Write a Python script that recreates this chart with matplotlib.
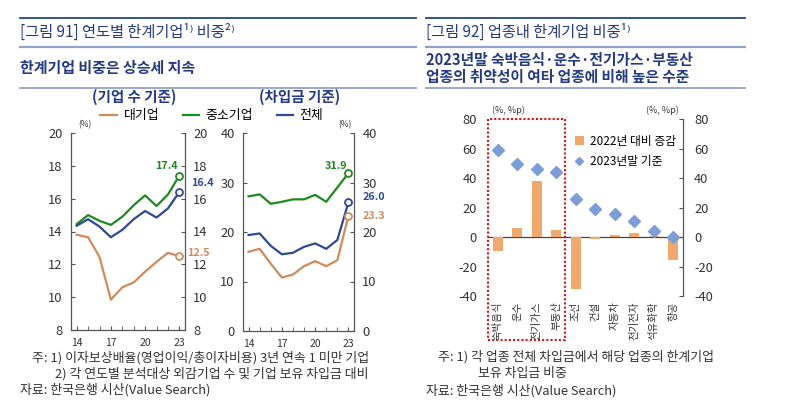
#!/usr/bin/env python3
# -*- coding: utf-8 -*-
"""
한계기업 비중 차트 재현 (그림 91, 그림 92)
"""

import numpy as np
import matplotlib
matplotlib.use('Agg')
import matplotlib.pyplot as plt
from matplotlib.lines import Line2D
from matplotlib.patches import Rectangle

plt.rcParams['font.family'] = ['Noto Sans CJK KR', 'DejaVu Sans']
plt.rcParams['axes.unicode_minus'] = False

# ---- 데이터 ----
years = [14, 15, 16, 17, 18, 19, 20, 21, 22, 23]

# 기업 수 기준 (%)
cnt_large = [13.8, 13.65, 12.45, 9.85, 10.6, 10.9, 11.55, 12.15, 12.7, 12.5]
cnt_sme = [14.45, 15.0, 14.65, 14.4, 14.9, 15.6, 16.2, 15.55, 16.25, 17.4]
cnt_all = [14.35, 14.75, 14.3, 13.65, 14.1, 14.75, 15.25, 14.85, 15.4, 16.4]

# 차입금 기준 (%)
debt_large = [16.0, 16.6, 13.6, 10.8, 11.4, 13.1, 14.1, 13.1, 14.3, 23.3]
debt_sme = [27.2, 27.6, 25.7, 26.1, 26.6, 26.6, 27.5, 26.1, 29.0, 31.9]
debt_all = [19.4, 19.7, 17.2, 15.5, 15.8, 17.0, 17.7, 16.6, 18.4, 26.0]

# 업종별
industries = ['숙박음식', '운수', '전기가스', '부동산', '조선', '건설', '자동차', '전기전자', '석유화학', '항공']
chg_vs_2022 = [-9.3, 5.9, 38.3, 4.8, -35.5, -1.1, 1.1, 2.9, 0.7, -15.6]
level_2023 = [59.1, 49.4, 46.2, 43.9, 26.0, 19.2, 15.6, 11.1, 4.1, 0.0]

# ---- 색상 ----
C_LARGE = '#D4895A'
C_SME = '#1E8A1E'
C_ALL = '#2D4A98'
C_BAR = '#F0A86C'
C_DIA = '#7D9DD8'
C_TITLE = '#233A86'
C_LINE_DARK = '#2A4485'
C_LINE_LIGHT = '#8FA3CF'
C_TXT = '#333333'

W, H = 800, 413
fig = plt.figure(figsize=(W / 100, H / 100), dpi=100)


def fx(x):
    return x / W


def fy(y):
    return 1 - y / H


def axes_px(left, top, right, bottom):
    return fig.add_axes([fx(left), fy(bottom), (right - left) / W, (bottom - top) / H])


# ---- 제목 영역 ----
def hline(x0, x1, y, color, lw):
    fig.add_artist(Line2D([fx(x0), fx(x1)], [fy(y), fy(y)], color=color, lw=lw,
                          transform=fig.transFigure))


hline(20, 416, 18, C_LINE_DARK, 1.3)
hline(20, 416, 47, C_LINE_LIGHT, 1.6)
hline(20, 416, 88, C_LINE_LIGHT, 1.3)
hline(426, 745, 18, C_LINE_DARK, 1.3)
hline(426, 745, 47, C_LINE_LIGHT, 1.6)
hline(426, 745, 88, C_LINE_LIGHT, 1.3)

fig.text(fx(20), fy(32), '[그림 91] 연도별 한계기업¹⁾ 비중²⁾', fontsize=11, color=C_TITLE,
         va='center', ha='left')
fig.text(fx(20), fy(68), '한계기업 비중은 상승세 지속', fontsize=10.8, color=C_TITLE,
         va='center', ha='left', fontweight='bold')
fig.text(fx(426), fy(32), '[그림 92] 업종내 한계기업 비중¹⁾', fontsize=11, color=C_TITLE,
         va='center', ha='left')
fig.text(fx(426), fy(60), '2023년말 숙박음식·운수·전기가스·부동산', fontsize=10.6, color=C_TITLE,
         va='center', ha='left', fontweight='bold')
fig.text(fx(426), fy(77), '업종의 취약성이 여타 업종에 비해 높은 수준', fontsize=10.6, color=C_TITLE,
         va='center', ha='left', fontweight='bold')

fig.text(fx(134), fy(97), '(기업 수 기준)', fontsize=10.5, color=C_TITLE, ha='center',
         va='center', fontweight='bold')
fig.text(fx(300), fy(97), '(차입금 기준)', fontsize=10.5, color=C_TITLE, ha='center',
         va='center', fontweight='bold')

# ---- 선 그래프 ----
def line_panel(ax, large, sme, total, ylim, yticks, labels):
    for vals, col in ((large, C_LARGE), (sme, C_SME), (total, C_ALL)):
        ax.plot(years, vals, color=col, lw=1.6, zorder=3)
        ax.plot(years[-1], vals[-1], 'o', ms=5, mfc='white', mec=col, mew=1.3, zorder=4)
    for vals, col, (dx, dy) in zip((large, sme, total), (C_LARGE, C_SME, C_ALL), labels):
        ax.annotate(f'{vals[-1]:.1f}', xy=(years[-1], vals[-1]), xytext=(dx, dy),
                    textcoords='offset points', ha='center', va='center',
                    fontsize=7.8, color=col, fontweight='bold', annotation_clip=False)
    ax.set_xlim(13.5, 23.5)
    ax.set_ylim(*ylim)
    ax.set_yticks(yticks)
    ax.set_xticks([14, 17, 20, 23])
    ax.set_xticks(years, minor=True)
    ax.set_xticklabels(['14', '17', '20', '23'])
    ax.spines['top'].set_visible(False)
    for s in ('left', 'right', 'bottom'):
        ax.spines[s].set_color('#555555')
        ax.spines[s].set_linewidth(0.9)
    ax.tick_params(axis='y', direction='in', left=True, right=True, labelleft=True,
                   labelright=True, length=3, labelsize=9.3, colors='#555555',
                   labelcolor=C_TXT, pad=6)
    ax.tick_params(axis='x', which='both', direction='in', length=3, labelsize=7.5,
                   colors='#555555', labelcolor=C_TXT, pad=6)


ax1 = axes_px(71, 133, 185, 330)
line_panel(ax1, cnt_large, cnt_sme, cnt_all, (8, 20), np.arange(8, 21, 2),
           [(14, 2), (-9, 7), (17, 6.5)])
ax1.text(0.12, 1.02, '(%)', transform=ax1.transAxes, fontsize=6, color=C_TXT,
         ha='center', va='bottom')

ax2 = axes_px(243, 133, 354, 331)
line_panel(ax2, debt_large, debt_sme, debt_all, (0, 40), np.arange(0, 41, 10),
           [(18, 0), (-9, 5), (18, 4)])
ax2.text(0.92, 1.02, '(%)', transform=ax2.transAxes, fontsize=6, color=C_TXT,
         ha='center', va='bottom')

handles = [Line2D([], [], color=C_LARGE, lw=1.6), Line2D([], [], color=C_SME, lw=1.6),
           Line2D([], [], color=C_ALL, lw=1.6)]
fig.legend(handles, ['대기업', '중소기업', '전체'], loc='center', ncol=3,
           bbox_to_anchor=(fx(212), fy(116)), frameon=False, fontsize=9.3,
           handlelength=1.3, handletextpad=0.5, columnspacing=1.8)

# ---- 업종별 그래프 ----
ax3 = axes_px(488, 119, 683, 296)
x = np.arange(len(industries))
bars = ax3.bar(x, chg_vs_2022, width=0.5, color=C_BAR, zorder=2)
dots, = ax3.plot(x, level_2023, 'D', ms=6, color=C_DIA, zorder=3, ls='none')
ax3.axhline(0, color='#444444', lw=0.9, zorder=1)
ax3.set_xlim(-0.5, len(industries) - 0.5)
ax3.set_ylim(-40, 80)
ax3.set_yticks(np.arange(-40, 81, 20))
ax3.set_xticks(x)
ax3.set_xticklabels(industries, rotation=90, fontsize=7.5, color=C_TXT)
ax3.tick_params(axis='x', length=0, pad=4)
for s in ('top', 'left', 'bottom'):
    ax3.spines[s].set_visible(False)
ax3.spines['right'].set_color('#555555')
ax3.spines['right'].set_linewidth(0.9)
ax3.tick_params(axis='y', direction='in', left=False, right=True, labelleft=True,
                labelright=True, length=3, labelsize=9.3, colors='#555555',
                labelcolor=C_TXT, pad=8)
ax3.text(0.02, 1.02, '(%, %p)', transform=ax3.transAxes, fontsize=6.5, color=C_TXT,
         ha='left', va='bottom')
ax3.text(0.98, 1.02, '(%, %p)', transform=ax3.transAxes, fontsize=6.5, color=C_TXT,
         ha='right', va='bottom')
ax3.legend([bars, dots], ['2022년 대비 증감', '2023년말 기준'], loc='upper left',
           bbox_to_anchor=(0.39, 0.97), frameon=False, fontsize=8.5,
           handlelength=0.8, handleheight=0.8, handletextpad=0.5, labelspacing=0.6,
           markerscale=0.7)

# 빨간 점선 박스 (숙박음식~부동산)
fig.add_artist(Rectangle((fx(488), fy(340)), (565 - 488) / W, (340 - 119) / H,
                         transform=fig.transFigure, fill=False, ec='#E01010',
                         lw=1.5, ls=(0, (1, 1))))

# ---- 주석 ----
fs_note = 9.3
fig.text(fx(32), fy(358), '주: 1) 이자보상배율(영업이익/총이자비용) 3년 연속 1 미만 기업',
         fontsize=fs_note, color=C_TXT, va='center')
fig.text(fx(55), fy(374), '2) 각 연도별 분석대상 외감기업 수 및 기업 보유 차입금 대비',
         fontsize=fs_note, color=C_TXT, va='center')
fig.text(fx(20), fy(390), '자료: 한국은행 시산(Value Search)', fontsize=fs_note,
         color=C_TXT, va='center')
fig.text(fx(438), fy(357), '주: 1) 각 업종 전체 차입금에서 해당 업종의 한계기업',
         fontsize=fs_note, color=C_TXT, va='center')
fig.text(fx(478), fy(374), '보유 차입금 비중', fontsize=fs_note, color=C_TXT, va='center')
fig.text(fx(426), fy(391), '자료: 한국은행 시산(Value Search)', fontsize=fs_note,
         color=C_TXT, va='center')

fig.savefig('out.png', dpi=100)
